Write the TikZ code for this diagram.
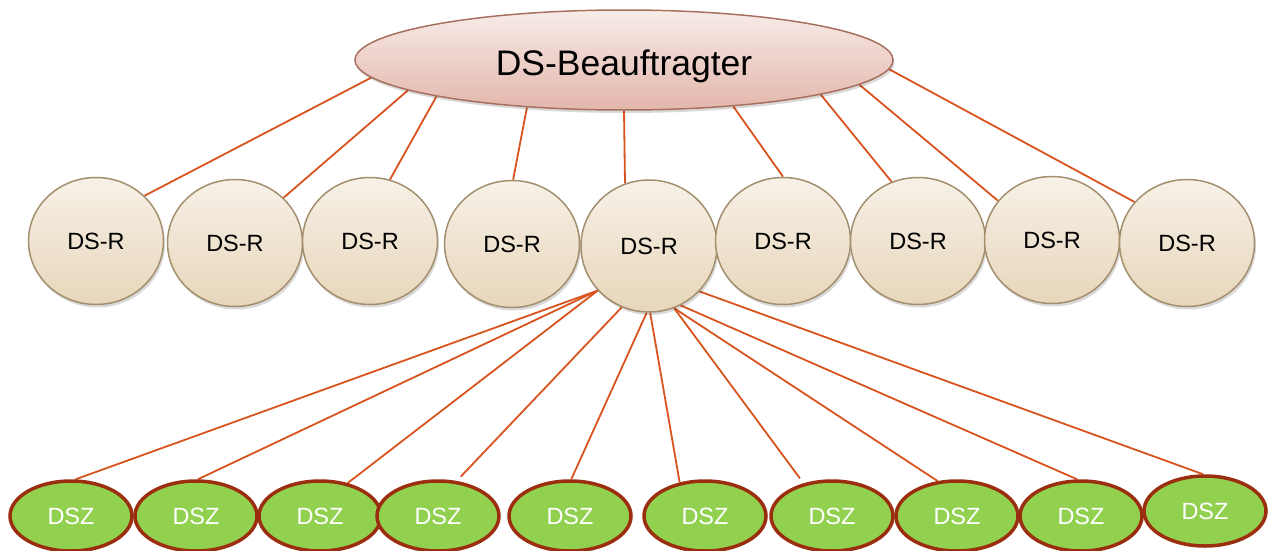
\documentclass[tikz,border=0pt]{standalone}
\usepackage{fontspec}
\setmainfont{Liberation Sans}
\usetikzlibrary{shapes.geometric,shadows,backgrounds}
\definecolor{linecol}{HTML}{D9531E}
\definecolor{topborder}{HTML}{A8705F}
\definecolor{toptop}{HTML}{F7ECE8}
\definecolor{topbot}{HTML}{E3B6AB}
\definecolor{rborder}{HTML}{A38F6E}
\definecolor{rtop}{HTML}{F7F1E8}
\definecolor{rbot}{HTML}{E7D6BA}
\definecolor{zfill}{HTML}{92D050}
\definecolor{zborder}{HTML}{9A2E0E}
\tikzset{
  softshadow/.style={drop shadow={shadow xshift=1.5pt, shadow yshift=-3pt, opacity=0.15, fill=black}},
  chief/.style={ellipse, draw=topborder, line width=1.5pt, top color=toptop, bottom color=topbot,
    minimum width=538pt, minimum height=100pt, inner sep=0pt, text height=30pt, text depth=0pt,
    font=\fontsize{35.5}{40}\selectfont, softshadow},
  rep/.style={ellipse, draw=rborder, line width=1.5pt, top color=rtop, bottom color=rbot,
    minimum width=135pt, minimum height=127pt, inner sep=0pt, font=\fontsize{23.5}{26}\selectfont, softshadow},
  dsz/.style={ellipse, draw=zborder, line width=3.5pt, fill=zfill, text=white,
    minimum width=122pt, minimum height=70pt, inner sep=0pt, font=\fontsize{23.5}{26}\selectfont},
  conn/.style={draw=linecol, line width=1.8pt},
}
\begin{document}
\begin{tikzpicture}[x=1pt, y=-1pt]
\useasboundingbox (0,0) rectangle (1268,551);
% top
\node[chief] (top) at (624,60) {DS-Beauftragter};
% DS-R row
\node[rep] (r1) at (96,241) {DS-R};
\node[rep] (r2) at (235,243) {DS-R};
\node[rep] (r3) at (370,241) {DS-R};
\node[rep] (r4) at (512,244) {DS-R};
\node[rep, minimum width=136pt, minimum height=132pt] (r5) at (649,246) {DS-R};
\node[rep] (r6) at (783,241) {DS-R};
\node[rep] (r7) at (918,241) {DS-R};
\node[rep] (r8) at (1052,240) {DS-R};
\node[rep] (r9) at (1187,243) {DS-R};
% DSZ row
\node[dsz] (z1) at (71,516) {DSZ};
\node[dsz] (z2) at (196,516) {DSZ};
\node[dsz] (z3) at (320,516) {DSZ};
\node[dsz] (z4) at (438,516) {DSZ};
\node[dsz] (z5) at (570,516) {DSZ};
\node[dsz] (z6) at (705,516) {DSZ};
\node[dsz] (z7) at (832,516) {DSZ};
\node[dsz] (z8) at (957,516) {DSZ};
\node[dsz] (z9) at (1081,516) {DSZ};
\node[dsz] (z10) at (1205,511) {DSZ};
\begin{pgfonlayer}{background}
% top to DS-R
\draw[conn] (top.184) -- (r1.43);
\draw[conn] (top.188) -- (r2.43);
\draw[conn] (top.191) -- (r3.72);
\draw[conn] (top.206) -- (r4.89);
\draw[conn] (top.270) -- (r5.111);
\draw[conn] (top.337) -- (r6.90);
\draw[conn] (top.350) -- (r7.114);
\draw[conn] (top.354) -- (r8.144);
\draw[conn] (top.358) -- (r9.142);
% DS-R to DSZ
\draw[conn] (r5.221) -- (z1.83);
\draw[conn] (r5.221) -- (z2.87);
\draw[conn] (r5.221) -- (z3.50);
\draw[conn, shorten >=6pt] (r5.246) -- (z4.62);
\draw[conn] (r5.268) -- (z5.88);
\draw[conn] (r5.271) -- (z6.127);
\draw[conn, shorten >=6pt] (r5.292) -- (z7.131);
\draw[conn] (r5.292) -- (z8.119);
\draw[conn] (r5.298) -- (z9.96);
\draw[conn] (r5.318) -- (z10.93);
\end{pgfonlayer}
\end{tikzpicture}
\end{document}
